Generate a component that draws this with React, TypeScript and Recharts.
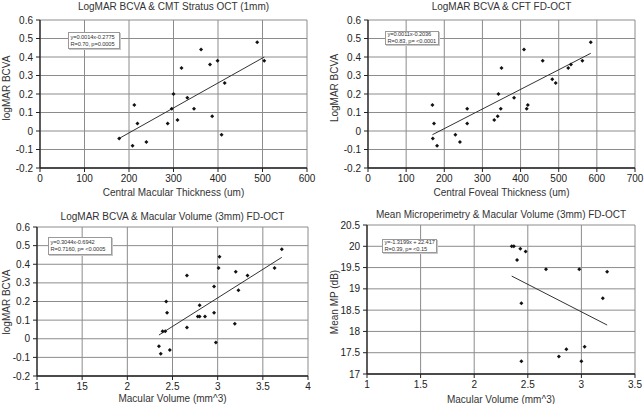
import React from 'react';
import { ScatterChart, Scatter, XAxis, YAxis, CartesianGrid, ReferenceLine } from 'recharts';

const FONT = '"Liberation Sans", Arial, Helvetica, sans-serif';

// Panel 1: logMAR BCVA vs CMT Stratus OCT
const cmtX = [178, 208, 212, 219, 239, 287, 296, 300, 309, 318, 331, 346, 362, 382, 387, 399, 408, 415, 488, 504];
const cmtY = [-0.04, -0.08, 0.14, 0.04, -0.06, 0.04, 0.12, 0.2, 0.06, 0.34, 0.18, 0.12, 0.44, 0.36, 0.08, 0.38, -0.02, 0.26, 0.48, 0.38];
const cmtFitX = [178, 504];
const cmtFitY = [-0.04, 0.4];

// Panel 2: LogMAR BCVA vs CFT FD-OCT
const cftX = [169, 173, 170, 181, 229, 241, 260, 260, 331, 340, 342, 348, 350, 383, 409, 416, 419, 458, 483, 492, 525, 532, 562, 584];
const cftY = [0.14, 0.04, -0.04, -0.08, -0.02, -0.06, 0.12, 0.04, 0.06, 0.08, 0.2, 0.12, 0.34, 0.18, 0.44, 0.12, 0.14, 0.38, 0.28, 0.26, 0.34, 0.36, 0.38, 0.48];
const cftFitX = [169, 584];
const cftFitY = [-0.02, 0.42];

// Panel 3: logMAR BCVA vs macular volume
const volX = [2.35, 2.37, 2.39, 2.42, 2.43, 2.44, 2.47, 2.66, 2.66, 2.78, 2.8, 2.8, 2.86, 2.96, 2.96, 2.98, 3.01, 3.02, 3.2, 3.19, 3.23, 3.33, 3.63, 3.71];
const volY = [-0.04, -0.08, 0.04, 0.04, 0.2, 0.14, -0.06, 0.34, 0.06, 0.12, 0.18, 0.12, 0.12, 0.28, 0.14, -0.02, 0.38, 0.44, 0.36, 0.08, 0.26, 0.34, 0.38, 0.48];
const volFitX = [2.35, 3.71];
const volFitY = [0.02, 0.437];

// Panel 4: mean MP vs macular volume
const mpX = [2.35, 2.37, 2.43, 2.48, 2.4, 2.67, 2.98, 3.24, 3.2, 2.44, 2.86, 3.03, 2.79, 2.44, 3.0];
const mpY = [20.0, 20.0, 19.94, 19.88, 19.68, 19.46, 19.46, 19.4, 18.78, 18.66, 17.58, 17.64, 17.41, 17.3, 17.3];
const mpFitX = [2.35, 3.24];
const mpFitY = [19.3, 18.15];

// ticks
const logmarTicks = [-0.2, -0.1, 0, 0.1, 0.2, 0.3, 0.4, 0.5, 0.6];
const logmarLabels = ['-0.2', '-0.1', '0', '0.1', '0.2', '0.3', '0.4', '0.5', '0.6'];
const cmtTicks = [0, 100, 200, 300, 400, 500, 600];
const cftTicks = [0, 100, 200, 300, 400, 500, 600, 700];
const volTicks = [1, 1.5, 2, 2.5, 3, 3.5, 4];
const volLabels = ['1', '15', '2', '2.5', '3', '3.5', '4'];
const mpXTicks = [1, 1.5, 2, 2.5, 3, 3.5];
const mpYTicks = [17, 17.5, 18, 18.5, 19, 19.5, 20, 20.5];

const zip = (xs: number[], ys: number[]) => xs.map((x, i) => ({ x, y: ys[i] }));

const Dot = (p: any) => {
    const { cx, cy } = p;
    const r = 2;
    return <path d={`M${cx},${cy - r}L${cx + r},${cy}L${cx},${cy + r}L${cx - r},${cy}Z`} fill="#111" />;
};

const tickStyle = { fontSize: 10, fill: '#222', fontFamily: FONT };

const Panel = (props: any) => {
    const {
        left, top, width, height, plot, points, fit,
        xTicks, xLabels, xDomain, yTicks, yLabels, yDomain,
        title, titleY, xTitle, xTitleY, yTitle, yTitleX, yTitleY, note, noteBox,
    } = props;
    // plot = [x0, y0, x1, y1] in panel-local px
    const yAxisW = plot[0];
    const xAxisH = height - plot[3];
    const cx = (plot[0] + plot[2]) / 2;
    return (
        <div style={{ position: 'absolute', left, top, width, height, fontFamily: FONT, color: '#222' }}>
            <ScatterChart
                width={width}
                height={height}
                margin={{ top: plot[1], right: width - plot[2], bottom: 0, left: 0 }}
            >
                <CartesianGrid stroke="#8c8c8c" strokeWidth={1} />
                <XAxis
                    type="number"
                    dataKey="x"
                    domain={xDomain}
                    ticks={xTicks}
                    interval={0}
                    height={xAxisH}
                    tick={tickStyle}
                    tickSize={4}
                    tickMargin={3}
                    tickFormatter={(v: number) => xLabels ? xLabels[xTicks.indexOf(v)] : String(v)}
                    axisLine={{ stroke: '#222', strokeWidth: 1.3 }}
                    tickLine={{ stroke: '#222' }}
                />
                <YAxis
                    type="number"
                    dataKey="y"
                    domain={yDomain}
                    ticks={yTicks}
                    interval={0}
                    width={yAxisW}
                    tick={tickStyle}
                    tickSize={4}
                    tickMargin={3}
                    tickFormatter={(v: number) => yLabels ? yLabels[yTicks.indexOf(v)] : String(v)}
                    axisLine={{ stroke: '#222', strokeWidth: 1.3 }}
                    tickLine={{ stroke: '#222' }}
                />
                <ReferenceLine segment={fit} stroke="#333" strokeWidth={1} ifOverflow="visible" />
                <Scatter data={points} shape={Dot} isAnimationActive={false} />
            </ScatterChart>
            <div style={{ position: 'absolute', left: cx, top: titleY, transform: 'translate(-50%,-50%)', fontSize: 10, whiteSpace: 'nowrap', color: '#333' }}>
                {title}
            </div>
            <div style={{ position: 'absolute', left: cx, top: xTitleY, transform: 'translate(-50%,-50%)', fontSize: 10, whiteSpace: 'nowrap', color: '#333' }}>
                {xTitle}
            </div>
            <div style={{ position: 'absolute', left: yTitleX, top: yTitleY, transform: 'translate(-50%,-50%) rotate(-90deg)', fontSize: 10, whiteSpace: 'nowrap', color: '#333' }}>
                {yTitle}
            </div>
            <div style={{
                position: 'absolute', left: noteBox[0], top: noteBox[1], minWidth: noteBox[2], height: noteBox[3],
                boxSizing: 'border-box', border: '1px solid #999', background: '#fff', boxShadow: '1px 1px 0 #c8c8c8',
                fontSize: 5.7, lineHeight: '6.6px', padding: '0 1.5px', whiteSpace: 'nowrap', color: '#333',
                letterSpacing: -0.1, display: 'flex', flexDirection: 'column', justifyContent: 'center',
            }}>
                <div>{note[0]}</div>
                <div>{note[1]}</div>
            </div>
        </div>
    );
};

export default function App() {
    return (
        <div style={{ position: 'absolute', left: 0, top: 0, width: 644, height: 404, background: '#fff' }}>
            <Panel
                left={0} top={0} width={322} height={200}
                plot={[40, 20, 307, 168]}
                points={zip(cmtX, cmtY)}
                fit={zip(cmtFitX, cmtFitY)}
                xTicks={cmtTicks} xDomain={[0, 600]}
                yTicks={logmarTicks} yLabels={logmarLabels} yDomain={[-0.2, 0.6]}
                title="LogMAR BCVA & CMT Stratus OCT (1mm)" titleY={6}
                xTitle="Central Macular Thickness (um)" xTitleY={192}
                yTitle="logMAR BCVA" yTitleX={6} yTitleY={88}
                note={['y=0.0014x-0.2775', 'R=0.70, p=0.0005']}
                noteBox={[68, 32, 52, 17]}
            />
            <Panel
                left={322} top={0} width={322} height={200}
                plot={[46, 20, 313, 168]}
                points={zip(cftX, cftY)}
                fit={zip(cftFitX, cftFitY)}
                xTicks={cftTicks} xDomain={[0, 700]}
                yTicks={logmarTicks} yLabels={logmarLabels} yDomain={[-0.2, 0.6]}
                title="LogMAR BCVA & CFT FD-OCT" titleY={6}
                xTitle="Central Foveal Thickness (um)" xTitleY={192}
                yTitle="LogMAR BCVA" yTitleX={12} yTitleY={88}
                note={['y=0.0011x-0.2036', 'R=0.83, p= <0.0001']}
                noteBox={[63, 31, 54, 14]}
            />
            <Panel
                left={0} top={200} width={322} height={204}
                plot={[37, 27, 308, 176]}
                points={zip(volX, volY)}
                fit={zip(volFitX, volFitY)}
                xTicks={volTicks} xLabels={volLabels} xDomain={[1, 4]}
                yTicks={logmarTicks} yLabels={logmarLabels} yDomain={[-0.2, 0.6]}
                title="LogMAR BCVA & Macular Volume (3mm) FD-OCT" titleY={16}
                xTitle="Macular Volume (mm^3)" xTitleY={198}
                yTitle="logMAR BCVA" yTitleX={6} yTitleY={102}
                note={['y=0.3044x-0.6942', 'R=0.7160, p= <0.0005']}
                noteBox={[48, 37, 64, 18]}
            />
            <Panel
                left={322} top={200} width={322} height={204}
                plot={[45, 25, 313, 174]}
                points={zip(mpX, mpY)}
                fit={zip(mpFitX, mpFitY)}
                xTicks={mpXTicks} xDomain={[1, 3.5]}
                yTicks={mpYTicks} yDomain={[17, 20.5]}
                title="Mean Microperimetry & Macular Volume (3mm) FD-OCT" titleY={14}
                xTitle="Macular Volume (mm^3)" xTitleY={199}
                yTitle="Mean MP (dB)" yTitleX={12} yTitleY={102}
                note={['y=-1.3199x + 22.417', 'R=0.39, p= <0.15']}
                noteBox={[60, 39, 52, 14]}
            />
        </div>
    );
}
